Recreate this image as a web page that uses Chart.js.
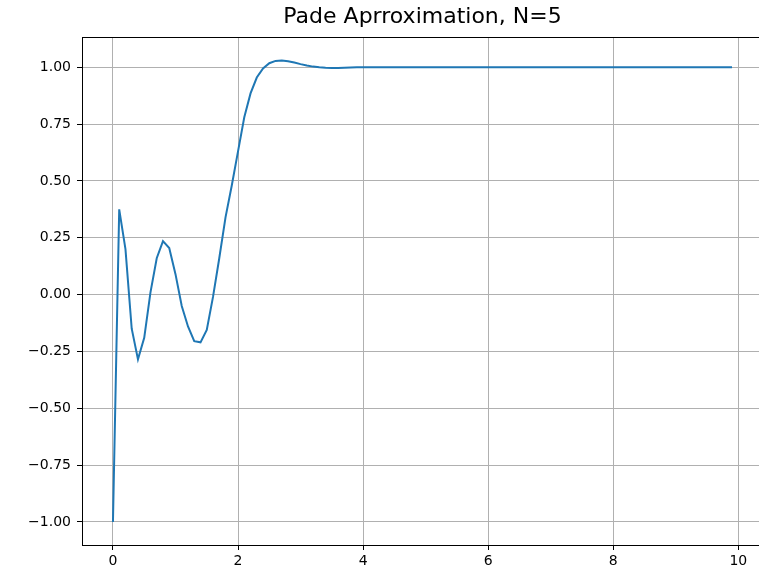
<!DOCTYPE html>
<html>
<head>
<meta charset="utf-8">
<script src="https://cdn.jsdelivr.net/npm/chart.js@4/dist/chart.umd.min.js"></script>
<style>
html,body{margin:0;padding:0;background:#fff;overflow:hidden;}
#wrap{width:766px;height:574px;}
</style>
</head>
<body>
<div id="wrap"><canvas id="c" width="766" height="574"></canvas></div>
<script>
const titleText = "Pade Aprroximation, N=5";
const timeValues = [
0.0,0.1,0.2,0.3,0.4,0.5,0.6,0.7,0.8,0.9,
1.0,1.1,1.2,1.3,1.4,1.5,1.6,1.7,1.8,1.9,
2.0,2.1,2.2,2.3,2.4,2.5,2.6,2.7,2.8,2.9,
3.0,3.1,3.2,3.3,3.4,3.5,3.6,3.7,3.8,3.9,
4.0,4.1,4.2,4.3,4.4,4.5,4.6,4.7,4.8,4.9,
5.0,5.1,5.2,5.3,5.4,5.5,5.6,5.7,5.8,5.9,
6.0,6.1,6.2,6.3,6.4,6.5,6.6,6.7,6.8,6.9,
7.0,7.1,7.2,7.3,7.4,7.5,7.6,7.7,7.8,7.9,
8.0,8.1,8.2,8.3,8.4,8.5,8.6,8.7,8.8,8.9,
9.0,9.1,9.2,9.3,9.4,9.5,9.6,9.7,9.8,9.9];
const responseValues = [
-1.0,0.375,0.20,-0.15,-0.285,-0.19,0.01,0.16,0.235,0.205,
0.09,-0.05,-0.14,-0.205,-0.21,-0.155,-0.01,0.16,0.34,0.48,
0.63,0.78,0.885,0.955,0.995,1.018,1.028,1.03,1.027,1.021,
1.014,1.008,1.003,1.0,0.998,0.997,0.997,0.998,0.999,1.0,
1.0,1.0,1.0,1.0,1.0,1.0,1.0,1.0,1.0,1.0,
1.0,1.0,1.0,1.0,1.0,1.0,1.0,1.0,1.0,1.0,
1.0,1.0,1.0,1.0,1.0,1.0,1.0,1.0,1.0,1.0,
1.0,1.0,1.0,1.0,1.0,1.0,1.0,1.0,1.0,1.0,
1.0,1.0,1.0,1.0,1.0,1.0,1.0,1.0,1.0,1.0,
1.0,1.0,1.0,1.0,1.0,1.0,1.0,1.0,1.0,1.0];
const xTickStep = 2;
const yTickStep = 0.25;

const points = timeValues.map((t, i) => ({x: t, y: responseValues[i]}));
const FONT = "'DejaVu Sans', sans-serif";

const spines = {
  id: 'spines',
  afterDatasetsDraw(chart) {
    const a = chart.chartArea, ctx = chart.ctx;
    ctx.save();
    ctx.strokeStyle = '#000';
    ctx.lineWidth = 1;
    ctx.strokeRect(Math.round(a.left) + 0.5, Math.round(a.top) + 0.5,
                   Math.round(a.right - a.left), Math.round(a.bottom - a.top));
    ctx.restore();
  }
};

new Chart(document.getElementById('c'), {
  type: 'line',
  data: {
    datasets: [{
      data: points,
      borderColor: '#1f77b4',
      borderWidth: 2,
      pointRadius: 0,
      tension: 0,
      fill: false
    }]
  },
  options: {
    responsive: false,
    animation: false,
    events: [],
    layout: {padding: {left: 0, right: 3, top: 0, bottom: 0}},
    plugins: {
      legend: {display: false},
      tooltip: {enabled: false},
      title: {
        display: true,
        text: titleText,
        fullSize: false,
        color: '#000',
        font: {family: FONT, size: 22, weight: 'normal', lineHeight: 1.2},
        padding: {top: 4, bottom: 7}
      }
    },
    scales: {
      x: {
        type: 'linear',
        min: -0.495,
        max: 10.395,
        afterFit(s) { s.height = 29; },
        grid: {color: '#b0b0b0', lineWidth: 1, tickColor: '#000', tickLength: 5, drawTicks: true},
        border: {display: true, color: '#000'},
        ticks: {
          stepSize: xTickStep,
          includeBounds: false,
          color: '#000',
          padding: 3,
          maxRotation: 0,
          font: {family: FONT, size: 14},
          callback: v => String(v)
        }
      },
      y: {
        type: 'linear',
        min: -1.1015,
        max: 1.1315,
        afterFit(s) { s.width = 82; },
        grid: {color: '#b0b0b0', lineWidth: 1, tickColor: '#000', tickLength: 5, drawTicks: true},
        border: {display: true, color: '#000'},
        ticks: {
          stepSize: yTickStep,
          includeBounds: false,
          color: '#000',
          padding: 6,
          font: {family: FONT, size: 14},
          callback: v => Number(v).toFixed(2).replace('-', '\u2212')
        }
      }
    }
  },
  plugins: [spines]
});
</script>
</body>
</html>
